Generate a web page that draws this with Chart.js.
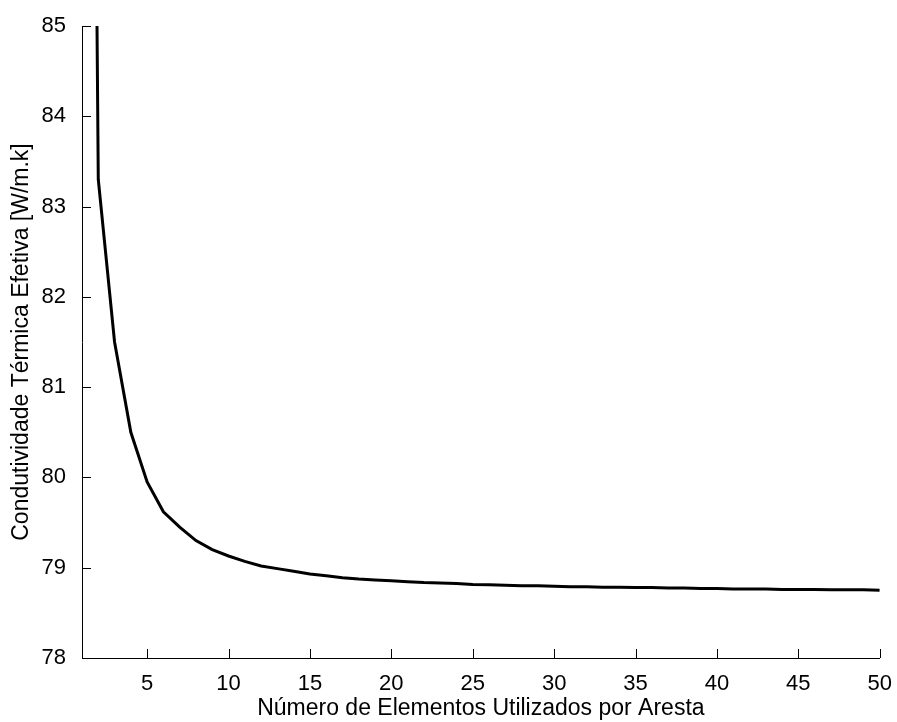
<!DOCTYPE html>
<html>
<head>
<meta charset="utf-8">
<script src="https://cdn.jsdelivr.net/npm/chart.js@4.4.1/dist/chart.umd.min.js"></script>
<style>
  html, body { margin: 0; padding: 0; background: #fff; }
  canvas { display: block; }
</style>
</head>
<body>
<canvas id="convChart" width="897" height="722"></canvas>
<script>
// values (x = 1 lies above the plotted range and is clipped)
const elementos = [
  1, 2, 3, 4, 5, 6, 7, 8, 9, 10,
  11, 12, 13, 14, 15, 16, 17, 18, 19, 20,
  21, 22, 23, 24, 25, 26, 27, 28, 29, 30,
  31, 32, 33, 34, 35, 36, 37, 38, 39, 40,
  41, 42, 43, 44, 45, 46, 47, 48, 49, 50
];
const condutividade = [
  105.0, 83.3, 81.5, 80.5, 79.95, 79.62, 79.45, 79.3, 79.2, 79.13,
  79.07, 79.02, 78.99, 78.96, 78.93, 78.91, 78.89, 78.875, 78.865, 78.855,
  78.845, 78.835, 78.83, 78.825, 78.815, 78.81, 78.805, 78.8, 78.8, 78.795,
  78.79, 78.79, 78.785, 78.785, 78.78, 78.78, 78.775, 78.775, 78.77, 78.77,
  78.765, 78.765, 78.765, 78.76, 78.76, 78.76, 78.755, 78.755, 78.755, 78.75
];
const xTicks = [5, 10, 15, 20, 25, 30, 35, 40, 45, 50];
const yTicks = [78, 79, 80, 81, 82, 83, 84, 85];

const FONT = "'Liberation Sans', Arial, Helvetica, sans-serif";

// inward tick marks, like the original plot
const inwardTicks = {
  id: "inwardTicks",
  afterDatasetsDraw(chart) {
    const { ctx, chartArea, scales } = chart;
    ctx.save();
    ctx.strokeStyle = "#000";
    ctx.lineWidth = 1;
    ctx.beginPath();
    xTicks.forEach(v => {
      const px = Math.round(scales.x.getPixelForValue(v)) + 0.5;
      ctx.moveTo(px, chartArea.bottom);
      ctx.lineTo(px, chartArea.bottom - 9);
    });
    yTicks.forEach(v => {
      const py = Math.round(scales.y.getPixelForValue(v)) + 0.5;
      ctx.moveTo(chartArea.left, py);
      ctx.lineTo(chartArea.left + 9, py);
    });
    ctx.stroke();
    ctx.restore();
  }
};

const ctx = document.getElementById("convChart").getContext("2d");
new Chart(ctx, {
  type: "scatter",
  data: {
    datasets: [{
      data: elementos.map((x, i) => ({ x: x, y: condutividade[i] })),
      showLine: true,
      borderColor: "#000",
      borderWidth: 3,
      pointRadius: 0,
      tension: 0
    }]
  },
  options: {
    responsive: false,
    animation: false,
    layout: { padding: { top: 26, right: 14, left: 0, bottom: 0 } },
    plugins: { legend: { display: false }, tooltip: { enabled: false } },
    scales: {
      x: {
        type: "linear",
        min: 1,
        max: 50,
        afterBuildTicks: s => { s.ticks = xTicks.map(v => ({ value: v })); },
        afterFit: s => { s.height = 64; },
        grid: { display: false },
        border: { display: true, color: "#000", width: 1 },
        ticks: { color: "#000", padding: 5, maxRotation: 0, font: { family: FONT, size: 22 } },
        title: {
          display: true,
          text: "Número de Elementos Utilizados por Aresta",
          color: "#000",
          font: { family: FONT, size: 23, lineHeight: 1 },
          padding: { top: 0, bottom: 2 }
        }
      },
      y: {
        type: "linear",
        min: 78,
        max: 85,
        afterBuildTicks: s => { s.ticks = yTicks.map(v => ({ value: v })); },
        afterFit: s => { s.width = 82; },
        grid: { display: false },
        border: { display: true, color: "#000", width: 1 },
        ticks: { color: "#000", padding: 8, font: { family: FONT, size: 22 } },
        title: {
          display: true,
          text: "Condutividade Térmica Efetiva [W/m.k]",
          color: "#000",
          font: { family: FONT, size: 23, lineHeight: 1 },
          padding: { top: 10, bottom: 0 }
        }
      }
    }
  },
  plugins: [inwardTicks]
});
</script>
</body>
</html>
